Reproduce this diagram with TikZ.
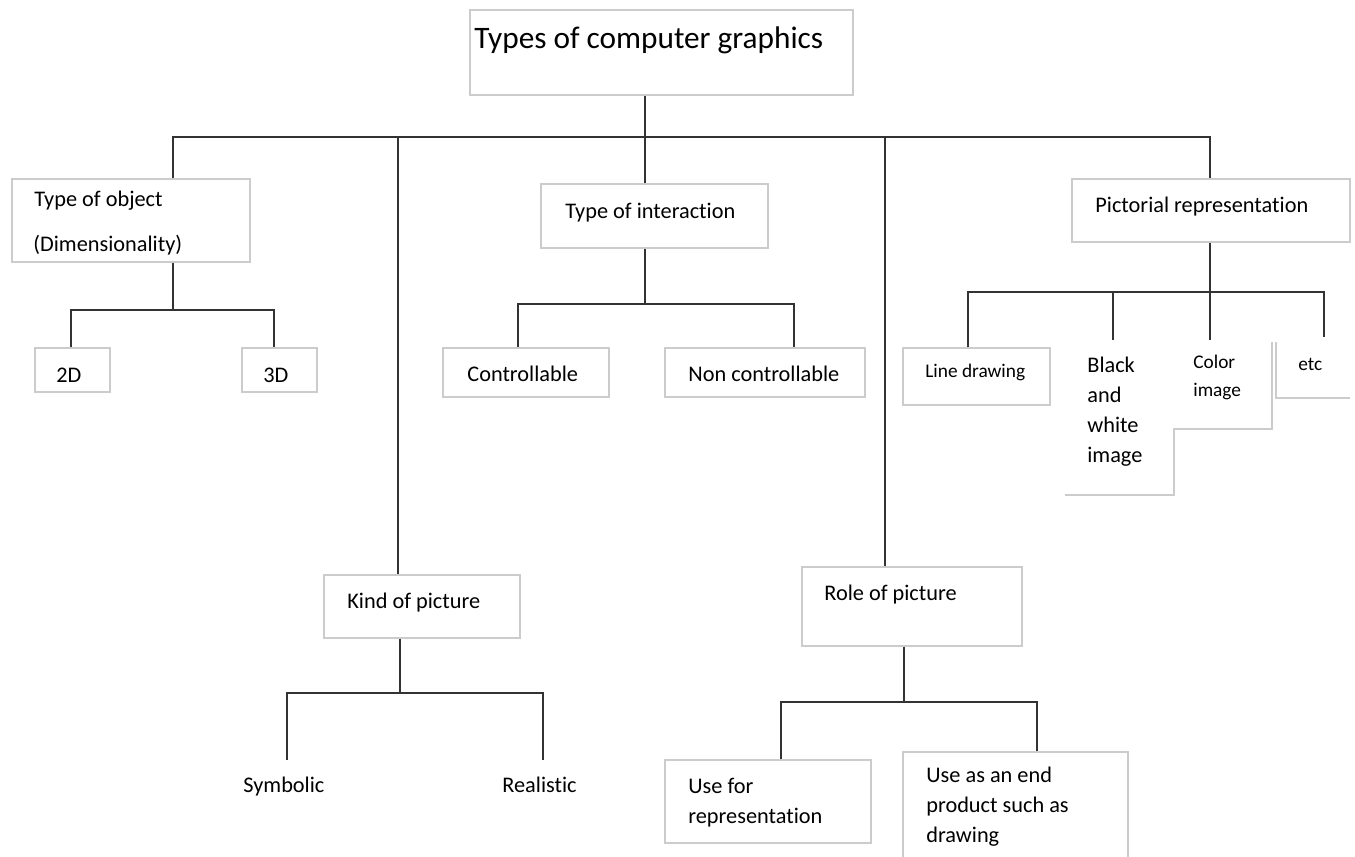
\documentclass[tikz,border=0pt]{standalone}
\usepackage{fontspec}
\setmainfont{Carlito}[Ligatures=NoCommon]
\usetikzlibrary{fit}
\tikzset{
	box/.style={draw=black!20, line width=0.8pt, inner sep=0pt},
	edge/.style={draw=black!20, line width=0.8pt},
	link/.style={draw=black!80, line width=1.4pt},
	txt/.style={anchor=base west, inner sep=0pt, align=left, font=\fontsize{12.7}{17}\selectfont},
	smalltxt/.style={txt, font=\fontsize{11}{15.4}\selectfont},
	titletxt/.style={txt, font=\fontsize{17.8}{21}\selectfont}
}
\newcommand{\mkbox}[3]{%
	\coordinate (#1_a) at (#2);
	\coordinate (#1_b) at (#3);
	\node[box, fit=(#1_a)(#1_b)] (#1) {};}

\begin{document}
\begin{tikzpicture}[x=0.02cm, y=-0.02cm]
        \clip (0,0) rectangle (1355,856);
        % boxes
        \mkbox{title}{470,10}{853,95}
        \mkbox{obj}{12,179}{250,262}
        \mkbox{d2}{35,348}{110,392}
        \mkbox{d3}{242,348}{317,392}
        \mkbox{inter}{541,184}{768,248}
        \mkbox{ctrl}{443,348}{609,397}
        \mkbox{nonctrl}{665,348}{865,397}
        \mkbox{pict}{1072,179}{1350,242}
        \mkbox{line}{903,348}{1050,405}
        \mkbox{kind}{324,575}{520,638}
        \mkbox{role}{802,567}{1022,646}
        \mkbox{usefor}{665,760}{871,843}
        \mkbox{useend}{903,752}{1128,870}
        \draw[edge] (1065,495) -- (1174,495) -- (1174,429) -- (1272,429) -- (1272,342);
        \draw[edge] (1276,342) -- (1276,398) -- (1350,398);
        % texts (multi-line nodes sit on their last baseline)
        \node[titletxt] (title_t) at (474,48) {Types of computer graphics};
        \node[txt] (obj_t1) at (34,206) {Type of object};
        \node[txt] (obj_t2) at (33,251) {(Dimensionality)};
        \node[txt] (d2_t) at (56,382) {2D};
        \node[txt] (d3_t) at (263,382) {3D};
        \node[txt] (inter_t) at (565,218) {Type of interaction};
        \node[txt] (ctrl_t) at (467,381) {Controllable};
        \node[txt] (nonctrl_t) at (688,381) {Non controllable};
        \node[txt] (pict_t) at (1095,212) {Pictorial representation};
        \node[smalltxt] (line_t) at (925,377) {Line drawing};
        \node[txt] (bw_t) at (1087,462) {Black\\and\\white\\image};
        \node[smalltxt] (color_t) at (1193,396) {Color\\image};
        \node[smalltxt] (etc_t) at (1298,370) {etc};
        \node[txt] (kind_t) at (347,608) {Kind of picture};
        \node[txt] (symb_t) at (243,792) {Symbolic};
        \node[txt] (real_t) at (502,792) {Realistic};
        \node[txt] (role_t) at (824,600) {Role of picture};
        \node[txt] (usefor_t) at (688,823) {Use for\\representation};
        \node[txt] (useend_t) at (926,842) {Use as an end\\product such as\\drawing};
        % main tree
        \coordinate (root_j) at (645,137);
        \coordinate (bus_l) at (173,137);
        \coordinate (bus_r) at (1210,137);
        \coordinate (kind_j) at (398,137);
        \coordinate (role_j) at (885,137);
        \draw[link] (title.south -| root_j) -- (root_j);
        \draw[link] (bus_l |- obj.north) -- (bus_l) -- (bus_r) -- (bus_r |- pict.north);
        \draw[link] (kind_j) -- (kind_j |- kind.north);
        \draw[link] (root_j) -- (root_j |- inter.north);
        \draw[link] (role_j) -- (role_j |- role.north);
        % type of object
        \coordinate (obj_j) at (173,310);
        \coordinate (obj_l) at (71,310);
        \coordinate (obj_r) at (274,310);
        \draw[link] (obj.south -| obj_j) -- (obj_j);
        \draw[link] (obj_l |- d2.north) -- (obj_l) -- (obj_r) -- (obj_r |- d3.north);
        % type of interaction
        \coordinate (inter_j) at (645,304);
        \coordinate (inter_l) at (518,304);
        \coordinate (inter_r) at (794,304);
        \draw[link] (inter.south -| inter_j) -- (inter_j);
        \draw[link] (inter_l |- ctrl.north) -- (inter_l) -- (inter_r) -- (inter_r |- nonctrl.north);
        % pictorial representation
        \coordinate (pict_j) at (1210,292);
        \coordinate (pict_l) at (968,292);
        \coordinate (pict_r) at (1324,292);
        \coordinate (bw_top) at (1113,340);
        \coordinate (color_top) at (1210,340);
        \coordinate (etc_top) at (1324,337);
        \draw[link] (pict.south -| pict_j) -- (color_top);
        \draw[link] (pict_l |- line.north) -- (pict_l) -- (pict_r) -- (etc_top);
        \draw[link] (bw_top |- pict_j) -- (bw_top);
        % kind of picture
        \coordinate (kind_j2) at (400,693);
        \coordinate (symb_top) at (287,760);
        \coordinate (real_top) at (543,760);
        \draw[link] (kind.south -| kind_j2) -- (kind_j2);
        \draw[link] (symb_top) -- (symb_top |- kind_j2) -- (real_top |- kind_j2) -- (real_top);
        % role of picture
        \coordinate (role_j2) at (904,702);
        \coordinate (role_l) at (781,702);
        \coordinate (role_r) at (1037,702);
        \draw[link] (role.south -| role_j2) -- (role_j2);
        \draw[link] (role_l |- usefor.north) -- (role_l) -- (role_r) -- (role_r |- useend.north);
    \end{tikzpicture}
\end{document}
